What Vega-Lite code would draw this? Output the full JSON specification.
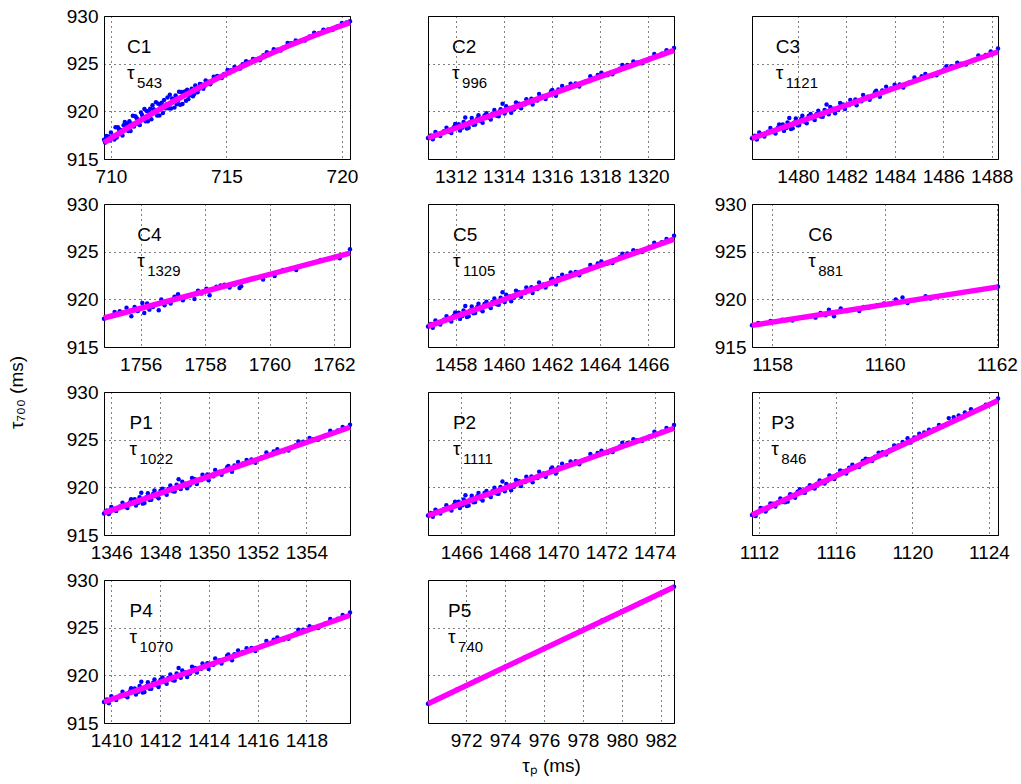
{
  "$schema": "https://vega.github.io/schema/vega-lite/v6.json",
  "background": "white",
  "padding": {"left": 6, "top": 6, "right": 5, "bottom": 5},
  "config": {
    "view": {"stroke": "#000", "strokeWidth": 1},
    "axis": {
      "grid": true, "gridDash": [1, 4], "gridColor": "#000", "gridOpacity": 1, "gridWidth": 1,
      "domain": false, "ticks": false, "tickSize": 0, "format": "d",
      "labelFont": "Liberation Sans", "labelFontSize": 19, "labelColor": "#000",
      "labelFlush": false, "labelOverlap": false,
      "titleFont": "Liberation Sans", "titleFontSize": 19, "titleFontWeight": "normal", "titleColor": "#000"
    },
    "axisX": {"labelPadding": 8},
    "axisY": {"labelPadding": 6},
    "text": {"font": "Liberation Sans", "fontSize": 19, "align": "left", "baseline": "alphabetic", "color": "#000"}
  },
  "datasets": {
    "C1": [
      {"x":709.70,"y":917.01},{"x":709.75,"y":916.74},{"x":709.85,"y":917.19},{"x":709.95,"y":916.94},{"x":710.10,"y":917.42},
      {"x":710.20,"y":918.32},{"x":710.25,"y":917.25},{"x":710.35,"y":918.10},{"x":710.45,"y":917.65},{"x":710.55,"y":918.54},
      {"x":710.65,"y":918.14},{"x":710.75,"y":917.94},{"x":710.80,"y":918.96},{"x":710.90,"y":918.71},{"x":711.00,"y":918.41},
      {"x":711.05,"y":919.48},{"x":711.15,"y":919.17},{"x":711.25,"y":918.57},{"x":711.30,"y":919.89},{"x":711.40,"y":919.33},
      {"x":711.50,"y":918.97},{"x":711.55,"y":920.04},{"x":711.65,"y":919.94},{"x":711.75,"y":919.18},{"x":711.80,"y":920.65},
      {"x":711.90,"y":919.94},{"x":712.00,"y":919.57},{"x":712.05,"y":920.79},{"x":712.15,"y":920.58},{"x":712.25,"y":919.82},
      {"x":712.30,"y":921.19},{"x":712.40,"y":920.72},{"x":712.50,"y":920.31},{"x":712.55,"y":921.73},{"x":712.65,"y":921.36},
      {"x":712.75,"y":920.39},{"x":712.80,"y":921.66},{"x":712.90,"y":921.09},{"x":713.00,"y":920.68},{"x":713.05,"y":922.04},
      {"x":713.15,"y":921.77},{"x":713.25,"y":921.10},{"x":713.30,"y":922.27},{"x":713.40,"y":921.65},{"x":713.50,"y":922.38},
      {"x":713.60,"y":921.80},{"x":713.70,"y":922.48},{"x":713.80,"y":922.31},{"x":713.90,"y":922.84},{"x":714.05,"y":922.67},
      {"x":714.20,"y":923.11},{"x":714.35,"y":923.19},{"x":714.50,"y":923.53},{"x":714.70,"y":923.52},{"x":714.90,"y":923.91},
      {"x":715.20,"y":924.31},{"x":715.50,"y":924.46},{"x":715.70,"y":924.94},{"x":716.00,"y":925.18},{"x":716.30,"y":925.46},
      {"x":716.60,"y":925.89},{"x":716.90,"y":926.01},{"x":717.20,"y":926.47},{"x":717.50,"y":926.73},{"x":717.80,"y":927.13},
      {"x":718.20,"y":927.37},{"x":718.60,"y":927.85},{"x":719.00,"y":928.18},{"x":719.40,"y":928.59},{"x":719.80,"y":928.89},
      {"x":720.20,"y":929.33},{"x":720.35,"y":929.45},
      {"x":709.80,"y":917.41},{"x":709.90,"y":917.37},{"x":710.00,"y":917.77},{"x":710.15,"y":917.05},{"x":710.30,"y":918.32},
      {"x":710.40,"y":918.07},{"x":710.50,"y":917.47},{"x":710.60,"y":918.87},{"x":710.70,"y":918.67},{"x":710.85,"y":917.94},
      {"x":710.95,"y":919.53},{"x":711.10,"y":919.35},{"x":711.20,"y":918.64},{"x":711.35,"y":919.61},{"x":711.45,"y":920.25},
      {"x":711.60,"y":918.97},{"x":711.70,"y":920.26},{"x":711.85,"y":920.22},{"x":711.95,"y":920.96},{"x":712.10,"y":919.56},
      {"x":712.20,"y":920.90},{"x":712.35,"y":920.31},{"x":712.45,"y":921.44},{"x":712.60,"y":920.29},{"x":712.70,"y":921.28},
      {"x":712.85,"y":920.73},{"x":712.95,"y":922.06},{"x":713.10,"y":920.76},{"x":713.20,"y":922.09},{"x":713.35,"y":921.28},
      {"x":713.45,"y":922.11},{"x":713.55,"y":921.59},{"x":713.65,"y":922.72},{"x":713.75,"y":922.00},{"x":713.85,"y":922.87},
      {"x":714.00,"y":922.36},{"x":714.10,"y":923.24},{"x":714.30,"y":922.83},{"x":714.45,"y":923.62},{"x":714.60,"y":923.70},
      {"x":714.80,"y":923.49},{"x":715.05,"y":924.34},{"x":715.35,"y":924.64},{"x":715.60,"y":924.48},{"x":715.85,"y":925.26},
      {"x":716.15,"y":925.50},{"x":716.45,"y":925.37},{"x":716.75,"y":926.20},{"x":717.05,"y":926.51},{"x":717.35,"y":926.38},
      {"x":717.65,"y":927.18},{"x":718.00,"y":927.43},{"x":718.40,"y":927.42},{"x":718.80,"y":928.24},{"x":719.20,"y":928.56},
      {"x":719.60,"y":928.56},{"x":720.00,"y":929.26}
    ],
    "C1fit": [
      {"x":709.70,"y":916.71},{"x":710.70,"y":918.22},{"x":711.70,"y":919.66},{"x":712.70,"y":921.03},{"x":713.70,"y":922.33},
      {"x":714.70,"y":923.57},{"x":715.70,"y":924.74},{"x":716.70,"y":925.84},{"x":717.70,"y":926.88},{"x":718.70,"y":927.85},
      {"x":719.70,"y":928.75},{"x":720.35,"y":929.30}
    ],
    "C2": [
      {"x":1310.85,"y":917.20},{"x":1310.97,"y":917.46},{"x":1311.26,"y":917.62},{"x":1311.51,"y":917.90},{"x":1311.72,"y":917.88},
      {"x":1311.92,"y":918.32},{"x":1312.13,"y":918.65},{"x":1312.28,"y":918.29},{"x":1312.40,"y":919.35},{"x":1312.47,"y":918.20},
      {"x":1312.61,"y":918.88},{"x":1312.74,"y":918.60},{"x":1312.90,"y":919.24},{"x":1313.05,"y":918.98},{"x":1313.20,"y":919.57},
      {"x":1313.39,"y":919.33},{"x":1313.53,"y":919.76},{"x":1313.71,"y":919.53},{"x":1313.87,"y":920.21},{"x":1313.95,"y":920.79},
      {"x":1314.04,"y":919.77},{"x":1314.23,"y":920.34},{"x":1314.43,"y":920.22},{"x":1314.64,"y":920.80},{"x":1314.89,"y":920.73},
      {"x":1315.15,"y":921.31},{"x":1315.40,"y":921.14},{"x":1315.66,"y":921.62},{"x":1315.97,"y":922.10},{"x":1316.27,"y":922.28},
      {"x":1316.63,"y":922.50},{"x":1316.99,"y":922.92},{"x":1317.40,"y":923.14},{"x":1317.91,"y":923.80},{"x":1318.32,"y":923.82},
      {"x":1318.83,"y":924.48},{"x":1319.14,"y":924.85},{"x":1319.55,"y":925.12},{"x":1320.06,"y":925.53},{"x":1320.57,"y":926.04},
      {"x":1321.08,"y":926.65},
      {"x":1311.05,"y":917.08},{"x":1311.16,"y":917.83},{"x":1311.36,"y":917.41},{"x":1311.62,"y":918.29},{"x":1311.82,"y":917.72},
      {"x":1311.98,"y":918.66},{"x":1312.18,"y":918.00},{"x":1312.33,"y":918.88},{"x":1312.54,"y":918.27},{"x":1312.67,"y":919.29},
      {"x":1312.81,"y":918.62},{"x":1312.95,"y":919.59},{"x":1313.12,"y":918.79},{"x":1313.28,"y":919.79},{"x":1313.46,"y":919.15},
      {"x":1313.61,"y":920.13},{"x":1313.79,"y":919.49},{"x":1314.10,"y":920.53},{"x":1314.31,"y":919.86},{"x":1314.51,"y":920.94},
      {"x":1314.72,"y":920.33},{"x":1314.94,"y":921.28},{"x":1315.20,"y":920.71},{"x":1315.47,"y":921.81},{"x":1315.74,"y":921.30},
      {"x":1316.02,"y":922.25},{"x":1316.17,"y":921.63},{"x":1316.43,"y":922.66},{"x":1316.78,"y":922.89},{"x":1317.14,"y":922.61},
      {"x":1317.60,"y":923.67},{"x":1318.06,"y":924.04},{"x":1318.52,"y":923.90},{"x":1318.93,"y":924.87},{"x":1319.39,"y":925.23},
      {"x":1319.75,"y":925.05},{"x":1320.26,"y":926.01},{"x":1320.77,"y":926.42}
    ],
    "C2fit": [{"x":1310.85,"y":917.20},{"x":1321.08,"y":926.40}],
    "C3": [
      {"x":1478.10,"y":917.17},{"x":1478.22,"y":917.43},{"x":1478.51,"y":917.58},{"x":1478.76,"y":917.86},{"x":1478.96,"y":917.84},
      {"x":1479.17,"y":918.27},{"x":1479.37,"y":918.61},{"x":1479.52,"y":918.24},{"x":1479.64,"y":919.30},{"x":1479.71,"y":918.15},
      {"x":1479.85,"y":918.83},{"x":1479.98,"y":918.55},{"x":1480.13,"y":919.19},{"x":1480.28,"y":918.92},{"x":1480.44,"y":919.51},
      {"x":1480.62,"y":919.27},{"x":1480.76,"y":919.70},{"x":1480.94,"y":919.46},{"x":1481.10,"y":920.15},{"x":1481.18,"y":920.72},
      {"x":1481.27,"y":919.70},{"x":1481.45,"y":920.27},{"x":1481.66,"y":920.15},{"x":1481.86,"y":920.73},{"x":1482.11,"y":920.66},
      {"x":1482.37,"y":921.23},{"x":1482.62,"y":921.06},{"x":1482.88,"y":921.54},{"x":1483.18,"y":922.01},{"x":1483.48,"y":922.18},
      {"x":1483.84,"y":922.40},{"x":1484.20,"y":922.82},{"x":1484.60,"y":923.03},{"x":1485.11,"y":923.69},{"x":1485.52,"y":923.70},
      {"x":1486.02,"y":924.35},{"x":1486.33,"y":924.72},{"x":1486.74,"y":924.99},{"x":1487.24,"y":925.39},{"x":1487.75,"y":925.90},
      {"x":1488.26,"y":926.60},
      {"x":1478.30,"y":917.05},{"x":1478.40,"y":917.79},{"x":1478.61,"y":917.37},{"x":1478.86,"y":918.25},{"x":1479.07,"y":917.68},
      {"x":1479.22,"y":918.62},{"x":1479.42,"y":917.95},{"x":1479.57,"y":918.84},{"x":1479.78,"y":918.22},{"x":1479.91,"y":919.24},
      {"x":1480.05,"y":918.56},{"x":1480.18,"y":919.53},{"x":1480.36,"y":918.74},{"x":1480.52,"y":919.73},{"x":1480.69,"y":919.09},
      {"x":1480.84,"y":920.07},{"x":1481.02,"y":919.43},{"x":1481.33,"y":920.46},{"x":1481.53,"y":919.79},{"x":1481.74,"y":920.87},
      {"x":1481.94,"y":920.25},{"x":1482.16,"y":921.20},{"x":1482.42,"y":920.63},{"x":1482.69,"y":921.72},{"x":1482.96,"y":921.21},
      {"x":1483.23,"y":922.16},{"x":1483.38,"y":921.54},{"x":1483.64,"y":922.57},{"x":1483.99,"y":922.79},{"x":1484.35,"y":922.50},
      {"x":1484.81,"y":923.56},{"x":1485.26,"y":923.92},{"x":1485.72,"y":923.78},{"x":1486.13,"y":924.74},{"x":1486.58,"y":925.10},
      {"x":1486.94,"y":924.92},{"x":1487.45,"y":925.87},{"x":1487.96,"y":926.28}
    ],
    "C3fit": [{"x":1478.10,"y":917.17},{"x":1488.26,"y":926.25}],
    "C4": [
      {"x":1754.86,"y":917.97},{"x":1755.19,"y":918.67},{"x":1755.35,"y":918.74},{"x":1755.56,"y":919.13},{"x":1755.71,"y":918.22},
      {"x":1755.81,"y":919.20},{"x":1755.91,"y":918.78},{"x":1756.05,"y":919.62},{"x":1756.11,"y":918.56},{"x":1756.20,"y":919.56},
      {"x":1756.27,"y":918.92},{"x":1756.38,"y":919.20},{"x":1756.56,"y":918.85},{"x":1756.64,"y":919.98},{"x":1756.74,"y":919.38},
      {"x":1756.82,"y":919.73},{"x":1756.93,"y":919.56},{"x":1757.05,"y":920.26},{"x":1757.16,"y":920.54},{"x":1757.31,"y":919.91},
      {"x":1757.42,"y":920.33},{"x":1757.57,"y":920.43},{"x":1757.67,"y":920.04},{"x":1757.78,"y":920.89},{"x":1757.89,"y":920.61},
      {"x":1758.04,"y":921.10},{"x":1758.14,"y":920.43},{"x":1758.35,"y":921.31},{"x":1758.48,"y":921.46},{"x":1758.60,"y":921.52},
      {"x":1758.76,"y":921.25},{"x":1758.92,"y":921.56},{"x":1759.07,"y":921.20},{"x":1759.12,"y":921.38},{"x":1759.80,"y":922.09},
      {"x":1760.16,"y":922.44},{"x":1760.42,"y":923.07},{"x":1760.83,"y":923.07},{"x":1761.59,"y":924.13},{"x":1762.18,"y":924.31},
      {"x":1762.50,"y":925.26}
    ],
    "C4fit": [{"x":1754.86,"y":918.04},{"x":1762.50,"y":924.84}],
    "C5": [
      {"x":1456.85,"y":917.16},{"x":1456.97,"y":917.41},{"x":1457.26,"y":917.57},{"x":1457.51,"y":917.85},{"x":1457.72,"y":917.83},
      {"x":1457.92,"y":918.27},{"x":1458.13,"y":918.60},{"x":1458.28,"y":918.24},{"x":1458.40,"y":919.30},{"x":1458.47,"y":918.15},
      {"x":1458.61,"y":918.83},{"x":1458.74,"y":918.55},{"x":1458.90,"y":919.19},{"x":1459.05,"y":918.93},{"x":1459.20,"y":919.52},
      {"x":1459.39,"y":919.28},{"x":1459.53,"y":919.71},{"x":1459.71,"y":919.48},{"x":1459.87,"y":920.16},{"x":1459.95,"y":920.74},
      {"x":1460.04,"y":919.72},{"x":1460.23,"y":920.29},{"x":1460.43,"y":920.17},{"x":1460.64,"y":920.75},{"x":1460.89,"y":920.68},
      {"x":1461.15,"y":921.26},{"x":1461.40,"y":921.09},{"x":1461.66,"y":921.57},{"x":1461.97,"y":922.05},{"x":1462.27,"y":922.23},
      {"x":1462.63,"y":922.45},{"x":1462.99,"y":922.87},{"x":1463.40,"y":923.09},{"x":1463.91,"y":923.75},{"x":1464.32,"y":923.77},
      {"x":1464.83,"y":924.43},{"x":1465.14,"y":924.80},{"x":1465.55,"y":925.07},{"x":1466.06,"y":925.48},{"x":1466.57,"y":925.99},
      {"x":1467.08,"y":926.66},
      {"x":1457.05,"y":917.03},{"x":1457.16,"y":917.78},{"x":1457.36,"y":917.36},{"x":1457.62,"y":918.24},{"x":1457.82,"y":917.67},
      {"x":1457.98,"y":918.61},{"x":1458.18,"y":917.95},{"x":1458.33,"y":918.83},{"x":1458.54,"y":918.22},{"x":1458.67,"y":919.24},
      {"x":1458.81,"y":918.57},{"x":1458.95,"y":919.54},{"x":1459.12,"y":918.74},{"x":1459.28,"y":919.74},{"x":1459.46,"y":919.10},
      {"x":1459.61,"y":920.08},{"x":1459.79,"y":919.44},{"x":1460.10,"y":920.48},{"x":1460.31,"y":919.81},{"x":1460.51,"y":920.89},
      {"x":1460.72,"y":920.28},{"x":1460.94,"y":921.23},{"x":1461.20,"y":920.66},{"x":1461.47,"y":921.76},{"x":1461.74,"y":921.25},
      {"x":1462.02,"y":922.17},{"x":1462.17,"y":921.55},{"x":1462.43,"y":922.58},{"x":1462.78,"y":922.81},{"x":1463.14,"y":922.53},
      {"x":1463.60,"y":923.59},{"x":1464.06,"y":923.96},{"x":1464.52,"y":923.82},{"x":1464.93,"y":924.79},{"x":1465.39,"y":925.15},
      {"x":1465.75,"y":924.97},{"x":1466.26,"y":925.93},{"x":1466.77,"y":926.34}
    ],
    "C5fit": [{"x":1456.85,"y":917.16},{"x":1467.08,"y":926.31}],
    "C6": [
      {"x":1157.64,"y":917.27},{"x":1157.75,"y":917.51},{"x":1157.97,"y":917.72},{"x":1158.18,"y":917.87},{"x":1158.36,"y":917.79},
      {"x":1158.51,"y":918.08},{"x":1158.69,"y":918.22},{"x":1158.77,"y":918.08},{"x":1158.86,"y":918.56},{"x":1158.95,"y":918.32},
      {"x":1159.01,"y":918.92},{"x":1159.10,"y":918.22},{"x":1159.22,"y":919.03},{"x":1159.34,"y":918.78},{"x":1159.43,"y":918.92},
      {"x":1159.55,"y":918.78},{"x":1159.63,"y":919.20},{"x":1159.72,"y":919.13},{"x":1159.87,"y":919.38},{"x":1159.99,"y":919.56},
      {"x":1160.11,"y":919.48},{"x":1160.20,"y":919.98},{"x":1160.32,"y":920.19},{"x":1160.41,"y":919.62},{"x":1160.53,"y":919.90},
      {"x":1160.73,"y":920.33},{"x":1160.82,"y":920.08},{"x":1162.02,"y":921.31}
    ],
    "C6fit": [{"x":1157.64,"y":917.27},{"x":1162.02,"y":921.31}],
    "P1": [
      {"x":1345.70,"y":917.25},{"x":1345.82,"y":917.58},{"x":1346.10,"y":917.73},{"x":1346.36,"y":918.00},{"x":1346.56,"y":917.98},
      {"x":1346.76,"y":918.41},{"x":1346.96,"y":918.74},{"x":1347.11,"y":918.38},{"x":1347.23,"y":919.43},{"x":1347.29,"y":918.29},
      {"x":1347.44,"y":918.96},{"x":1347.57,"y":918.68},{"x":1347.72,"y":919.32},{"x":1347.87,"y":919.05},{"x":1348.02,"y":919.64},
      {"x":1348.20,"y":919.40},{"x":1348.34,"y":919.82},{"x":1348.53,"y":919.58},{"x":1348.68,"y":920.27},{"x":1348.76,"y":920.84},
      {"x":1348.85,"y":919.82},{"x":1349.03,"y":920.38},{"x":1349.23,"y":920.26},{"x":1349.43,"y":920.84},{"x":1349.69,"y":920.77},
      {"x":1349.94,"y":921.34},{"x":1350.19,"y":921.17},{"x":1350.44,"y":921.64},{"x":1350.75,"y":922.11},{"x":1351.05,"y":922.28},
      {"x":1351.40,"y":922.49},{"x":1351.75,"y":922.91},{"x":1352.16,"y":923.12},{"x":1352.66,"y":923.77},{"x":1353.07,"y":923.78},
      {"x":1353.57,"y":924.42},{"x":1353.87,"y":924.79},{"x":1354.28,"y":925.05},{"x":1354.78,"y":925.45},{"x":1355.29,"y":925.95},
      {"x":1355.79,"y":926.56},
      {"x":1345.90,"y":917.20},{"x":1346.00,"y":917.94},{"x":1346.20,"y":917.52},{"x":1346.46,"y":918.39},{"x":1346.66,"y":917.82},
      {"x":1346.81,"y":918.76},{"x":1347.01,"y":918.09},{"x":1347.16,"y":918.97},{"x":1347.36,"y":918.35},{"x":1347.50,"y":919.37},
      {"x":1347.64,"y":918.69},{"x":1347.77,"y":919.66},{"x":1347.94,"y":918.86},{"x":1348.10,"y":919.86},{"x":1348.27,"y":919.21},
      {"x":1348.42,"y":920.19},{"x":1348.60,"y":919.55},{"x":1348.91,"y":920.58},{"x":1349.11,"y":919.91},{"x":1349.31,"y":920.98},
      {"x":1349.51,"y":920.36},{"x":1349.74,"y":921.31},{"x":1349.99,"y":920.74},{"x":1350.26,"y":921.83},{"x":1350.52,"y":921.31},
      {"x":1350.80,"y":922.25},{"x":1350.95,"y":921.64},{"x":1351.20,"y":922.66},{"x":1351.55,"y":922.88},{"x":1351.91,"y":922.59},
      {"x":1352.36,"y":923.65},{"x":1352.81,"y":924.00},{"x":1353.27,"y":923.86},{"x":1353.67,"y":924.81},{"x":1354.13,"y":925.17},
      {"x":1354.48,"y":924.98},{"x":1354.98,"y":925.93},{"x":1355.49,"y":926.33}
    ],
    "P1fit": [{"x":1345.70,"y":917.32},{"x":1355.79,"y":926.30}],
    "P2": [
      {"x":1464.62,"y":917.04},{"x":1464.74,"y":917.30},{"x":1465.03,"y":917.46},{"x":1465.28,"y":917.74},{"x":1465.49,"y":917.72},
      {"x":1465.69,"y":918.15},{"x":1465.89,"y":918.49},{"x":1466.05,"y":918.12},{"x":1466.17,"y":919.18},{"x":1466.23,"y":918.04},
      {"x":1466.37,"y":918.72},{"x":1466.50,"y":918.43},{"x":1466.66,"y":919.07},{"x":1466.81,"y":918.81},{"x":1466.96,"y":919.40},
      {"x":1467.14,"y":919.16},{"x":1467.29,"y":919.59},{"x":1467.47,"y":919.35},{"x":1467.62,"y":920.04},{"x":1467.70,"y":920.62},
      {"x":1467.80,"y":919.60},{"x":1467.98,"y":920.16},{"x":1468.18,"y":920.05},{"x":1468.39,"y":920.63},{"x":1468.64,"y":920.56},
      {"x":1468.90,"y":921.14},{"x":1469.15,"y":920.97},{"x":1469.40,"y":921.45},{"x":1469.71,"y":921.92},{"x":1470.02,"y":922.09},
      {"x":1470.37,"y":922.32},{"x":1470.73,"y":922.74},{"x":1471.14,"y":922.95},{"x":1471.64,"y":923.61},{"x":1472.05,"y":923.63},
      {"x":1472.56,"y":924.28},{"x":1472.87,"y":924.66},{"x":1473.27,"y":924.93},{"x":1473.78,"y":925.33},{"x":1474.29,"y":925.84},
      {"x":1474.80,"y":926.55},
      {"x":1464.82,"y":916.92},{"x":1464.93,"y":917.66},{"x":1465.13,"y":917.25},{"x":1465.38,"y":918.13},{"x":1465.59,"y":917.56},
      {"x":1465.74,"y":918.50},{"x":1465.94,"y":917.83},{"x":1466.10,"y":918.72},{"x":1466.30,"y":918.10},{"x":1466.43,"y":919.12},
      {"x":1466.57,"y":918.45},{"x":1466.71,"y":919.42},{"x":1466.88,"y":918.62},{"x":1467.04,"y":919.62},{"x":1467.22,"y":918.98},
      {"x":1467.37,"y":919.96},{"x":1467.54,"y":919.32},{"x":1467.86,"y":920.35},{"x":1468.06,"y":919.69},{"x":1468.26,"y":920.77},
      {"x":1468.47,"y":920.15},{"x":1468.69,"y":921.10},{"x":1468.95,"y":920.53},{"x":1469.22,"y":921.63},{"x":1469.49,"y":921.12},
      {"x":1469.76,"y":922.07},{"x":1469.91,"y":921.45},{"x":1470.17,"y":922.48},{"x":1470.52,"y":922.70},{"x":1470.88,"y":922.42},
      {"x":1471.34,"y":923.49},{"x":1471.80,"y":923.85},{"x":1472.26,"y":923.71},{"x":1472.66,"y":924.68},{"x":1473.12,"y":925.04},
      {"x":1473.48,"y":924.86},{"x":1473.99,"y":925.82},{"x":1474.49,"y":926.23}
    ],
    "P2fit": [{"x":1464.62,"y":917.04},{"x":1474.80,"y":926.20}],
    "P3": [
      {"x":1111.63,"y":917.11},{"x":1111.76,"y":917.08},{"x":1111.95,"y":917.41},{"x":1112.21,"y":917.75},{"x":1112.46,"y":917.79},
      {"x":1112.72,"y":918.28},{"x":1112.98,"y":918.42},{"x":1113.24,"y":918.46},{"x":1113.49,"y":918.50},{"x":1113.75,"y":919.19},
      {"x":1114.01,"y":919.53},{"x":1114.26,"y":919.47},{"x":1114.52,"y":919.91},{"x":1114.78,"y":919.95},{"x":1115.03,"y":920.39},
      {"x":1115.29,"y":920.58},{"x":1115.55,"y":920.67},{"x":1115.80,"y":921.11},{"x":1116.06,"y":921.25},{"x":1116.38,"y":921.65},
      {"x":1116.70,"y":922.05},{"x":1117.02,"y":922.10},{"x":1117.41,"y":922.76},{"x":1117.73,"y":922.96},{"x":1118.05,"y":923.21},
      {"x":1118.44,"y":923.67},{"x":1118.82,"y":923.93},{"x":1119.27,"y":924.40},{"x":1119.75,"y":925.14},{"x":1120.10,"y":925.24},
      {"x":1120.62,"y":925.76},{"x":1121.13,"y":926.09},{"x":1121.90,"y":927.26},{"x":1122.42,"y":927.54},{"x":1123.06,"y":928.19},
      {"x":1123.83,"y":928.66},{"x":1124.47,"y":929.31},
      {"x":1111.82,"y":916.99},{"x":1112.08,"y":917.83},{"x":1112.34,"y":917.47},{"x":1112.59,"y":918.31},{"x":1112.85,"y":918.00},
      {"x":1113.11,"y":918.84},{"x":1113.36,"y":918.43},{"x":1113.62,"y":919.27},{"x":1113.88,"y":918.91},{"x":1114.13,"y":919.80},
      {"x":1114.39,"y":919.44},{"x":1114.65,"y":920.23},{"x":1114.90,"y":919.87},{"x":1115.16,"y":920.71},{"x":1115.42,"y":920.40},
      {"x":1115.67,"y":921.24},{"x":1115.93,"y":920.88},{"x":1116.23,"y":921.76},{"x":1116.55,"y":921.46},{"x":1116.87,"y":922.36},
      {"x":1117.22,"y":922.13},{"x":1117.56,"y":923.00},{"x":1117.90,"y":922.77},{"x":1118.24,"y":923.64},{"x":1118.63,"y":923.45},
      {"x":1119.05,"y":924.40},{"x":1119.49,"y":924.75},{"x":1119.91,"y":924.70},{"x":1120.36,"y":925.62},{"x":1120.87,"y":926.05},
      {"x":1121.39,"y":926.53},{"x":1122.16,"y":927.35},{"x":1122.74,"y":927.84}
    ],
    "P3fit": [{"x":1111.63,"y":917.11},{"x":1124.47,"y":929.10}],
    "P4": [
      {"x":1409.70,"y":917.20},{"x":1409.82,"y":917.46},{"x":1410.10,"y":917.61},{"x":1410.36,"y":917.89},{"x":1410.56,"y":917.87},
      {"x":1410.76,"y":918.30},{"x":1410.96,"y":918.63},{"x":1411.11,"y":918.28},{"x":1411.23,"y":919.33},{"x":1411.29,"y":918.19},
      {"x":1411.44,"y":918.86},{"x":1411.57,"y":918.58},{"x":1411.72,"y":919.22},{"x":1411.87,"y":918.95},{"x":1412.02,"y":919.55},
      {"x":1412.20,"y":919.31},{"x":1412.34,"y":919.73},{"x":1412.53,"y":919.49},{"x":1412.68,"y":920.19},{"x":1412.76,"y":920.76},
      {"x":1412.85,"y":919.74},{"x":1413.03,"y":920.30},{"x":1413.23,"y":920.18},{"x":1413.43,"y":920.76},{"x":1413.69,"y":920.70},
      {"x":1413.94,"y":921.27},{"x":1414.19,"y":921.10},{"x":1414.44,"y":921.58},{"x":1414.75,"y":922.05},{"x":1415.05,"y":922.22},
      {"x":1415.40,"y":922.44},{"x":1415.75,"y":922.86},{"x":1416.16,"y":923.08},{"x":1416.66,"y":923.73},{"x":1417.07,"y":923.75},
      {"x":1417.57,"y":924.39},{"x":1417.87,"y":924.77},{"x":1418.28,"y":925.03},{"x":1418.78,"y":925.44},{"x":1419.29,"y":925.94},
      {"x":1419.79,"y":926.60},
      {"x":1409.90,"y":917.08},{"x":1410.00,"y":917.82},{"x":1410.20,"y":917.40},{"x":1410.46,"y":918.28},{"x":1410.66,"y":917.71},
      {"x":1410.81,"y":918.65},{"x":1411.01,"y":917.99},{"x":1411.16,"y":918.87},{"x":1411.36,"y":918.25},{"x":1411.50,"y":919.27},
      {"x":1411.64,"y":918.59},{"x":1411.77,"y":919.56},{"x":1411.94,"y":918.77},{"x":1412.10,"y":919.77},{"x":1412.27,"y":919.12},
      {"x":1412.42,"y":920.10},{"x":1412.60,"y":919.46},{"x":1412.91,"y":920.50},{"x":1413.11,"y":919.83},{"x":1413.31,"y":920.90},
      {"x":1413.51,"y":920.29},{"x":1413.74,"y":921.24},{"x":1413.99,"y":920.67},{"x":1414.26,"y":921.76},{"x":1414.52,"y":921.25},
      {"x":1414.80,"y":922.19},{"x":1414.95,"y":921.58},{"x":1415.20,"y":922.61},{"x":1415.55,"y":922.83},{"x":1415.91,"y":922.54},
      {"x":1416.36,"y":923.61},{"x":1416.81,"y":923.96},{"x":1417.27,"y":923.83},{"x":1417.67,"y":924.78},{"x":1418.13,"y":925.15},
      {"x":1418.48,"y":924.96},{"x":1418.98,"y":925.92},{"x":1419.49,"y":926.33}
    ],
    "P4fit": [{"x":1409.70,"y":917.20},{"x":1419.79,"y":926.30}],
    "P5": [
      {"x":970.04,"y":917.03},{"x":970.50,"y":917.51},{"x":971.00,"y":917.93},{"x":971.50,"y":918.48},{"x":972.00,"y":918.91},
      {"x":972.50,"y":919.46},{"x":973.00,"y":919.86},{"x":973.50,"y":920.41},{"x":974.00,"y":920.89},{"x":974.50,"y":921.32},
      {"x":975.00,"y":921.87},{"x":975.50,"y":922.30},{"x":976.00,"y":922.83},{"x":976.50,"y":923.25},{"x":977.00,"y":923.82},
      {"x":977.50,"y":924.22},{"x":978.00,"y":924.78},{"x":978.50,"y":925.20},{"x":979.00,"y":925.77},{"x":979.50,"y":926.16},
      {"x":980.00,"y":926.73},{"x":980.50,"y":927.14},{"x":981.00,"y":927.70},{"x":981.50,"y":928.10},{"x":982.00,"y":928.66},
      {"x":982.68,"y":929.30}
    ],
    "P5fit": [{"x":970.04,"y":917.03},{"x":982.68,"y":929.27}]
  },
  "columns": 3,
  "bounds": "flush",
  "spacing": {"row": 45, "column": 78},
  "concat": [
    {
      "width": 246, "height": 143,
      "encoding": {
        "x": {"field": "x", "type": "quantitative", "scale": {"domain": [709.7, 720.35], "nice": false, "zero": false}, "axis": {"values": [710, 715, 720], "title": null}},
        "y": {"field": "y", "type": "quantitative", "scale": {"domain": [915, 930], "nice": false, "zero": false}, "axis": {"values": [915, 920, 925, 930], "title": null}}
      },
      "layer": [
        {"data": {"name": "C1"}, "mark": {"type": "circle", "size": 20, "color": "#0000ff", "opacity": 1}},
        {"data": {"name": "C1fit"}, "mark": {"type": "line", "color": "#ff00ff", "strokeWidth": 5.5, "strokeCap": "butt"}, "encoding": {}},
        {"data": {"values": [{"t": "C1", "x": 710.7, "y": 926.15}, {"t": "τ", "x": 710.7, "y": 923.4}]}, "mark": {"type": "text"}, "encoding": {"text": {"field": "t", "type": "nominal"}}},
        {"data": {"values": [{"t": "543", "x": 710.7, "y": 923.4}]}, "mark": {"type": "text", "fontSize": 15, "dx": 10, "dy": 9}, "encoding": {"text": {"field": "t", "type": "nominal"}}}
      ]
    },
    {
      "width": 246, "height": 143,
      "encoding": {
        "x": {"field": "x", "type": "quantitative", "scale": {"domain": [1310.85, 1321.08], "nice": false, "zero": false}, "axis": {"values": [1312, 1314, 1316, 1318, 1320], "title": null}},
        "y": {"field": "y", "type": "quantitative", "scale": {"domain": [915, 930], "nice": false, "zero": false}, "axis": {"values": [915, 920, 925, 930], "title": null, "labels": false}}
      },
      "layer": [
        {"data": {"name": "C2"}, "mark": {"type": "circle", "size": 20, "color": "#0000ff", "opacity": 1}},
        {"data": {"name": "C2fit"}, "mark": {"type": "line", "color": "#ff00ff", "strokeWidth": 5.5, "strokeCap": "butt"}, "encoding": {}},
        {"data": {"values": [{"t": "C2", "x": 1311.85, "y": 926.15}, {"t": "τ", "x": 1311.85, "y": 923.4}]}, "mark": {"type": "text"}, "encoding": {"text": {"field": "t", "type": "nominal"}}},
        {"data": {"values": [{"t": "996", "x": 1311.85, "y": 923.4}]}, "mark": {"type": "text", "fontSize": 15, "dx": 10, "dy": 9}, "encoding": {"text": {"field": "t", "type": "nominal"}}}
      ]
    },
    {
      "width": 246, "height": 143,
      "encoding": {
        "x": {"field": "x", "type": "quantitative", "scale": {"domain": [1478.1, 1488.26], "nice": false, "zero": false}, "axis": {"values": [1480, 1482, 1484, 1486, 1488], "title": null}},
        "y": {"field": "y", "type": "quantitative", "scale": {"domain": [915, 930], "nice": false, "zero": false}, "axis": {"values": [915, 920, 925, 930], "title": null, "labels": false}}
      },
      "layer": [
        {"data": {"name": "C3"}, "mark": {"type": "circle", "size": 20, "color": "#0000ff", "opacity": 1}},
        {"data": {"name": "C3fit"}, "mark": {"type": "line", "color": "#ff00ff", "strokeWidth": 5.5, "strokeCap": "butt"}, "encoding": {}},
        {"data": {"values": [{"t": "C3", "x": 1479.08, "y": 926.15}, {"t": "τ", "x": 1479.08, "y": 923.4}]}, "mark": {"type": "text"}, "encoding": {"text": {"field": "t", "type": "nominal"}}},
        {"data": {"values": [{"t": "1121", "x": 1479.08, "y": 923.4}]}, "mark": {"type": "text", "fontSize": 15, "dx": 10, "dy": 9}, "encoding": {"text": {"field": "t", "type": "nominal"}}}
      ]
    },
    {
      "width": 246, "height": 143,
      "encoding": {
        "x": {"field": "x", "type": "quantitative", "scale": {"domain": [1754.86, 1762.5], "nice": false, "zero": false}, "axis": {"values": [1756, 1758, 1760, 1762], "title": null}},
        "y": {"field": "y", "type": "quantitative", "scale": {"domain": [915, 930], "nice": false, "zero": false}, "axis": {"values": [915, 920, 925, 930], "title": null}}
      },
      "layer": [
        {"data": {"name": "C4"}, "mark": {"type": "circle", "size": 20, "color": "#0000ff", "opacity": 1}},
        {"data": {"name": "C4fit"}, "mark": {"type": "line", "color": "#ff00ff", "strokeWidth": 5.5, "strokeCap": "butt"}, "encoding": {}},
        {"data": {"values": [{"t": "C4", "x": 1755.89, "y": 926.15}, {"t": "τ", "x": 1755.89, "y": 923.4}]}, "mark": {"type": "text"}, "encoding": {"text": {"field": "t", "type": "nominal"}}},
        {"data": {"values": [{"t": "1329", "x": 1755.89, "y": 923.4}]}, "mark": {"type": "text", "fontSize": 15, "dx": 10, "dy": 9}, "encoding": {"text": {"field": "t", "type": "nominal"}}}
      ]
    },
    {
      "width": 246, "height": 143,
      "encoding": {
        "x": {"field": "x", "type": "quantitative", "scale": {"domain": [1456.85, 1467.08], "nice": false, "zero": false}, "axis": {"values": [1458, 1460, 1462, 1464, 1466], "title": null}},
        "y": {"field": "y", "type": "quantitative", "scale": {"domain": [915, 930], "nice": false, "zero": false}, "axis": {"values": [915, 920, 925, 930], "title": null, "labels": false}}
      },
      "layer": [
        {"data": {"name": "C5"}, "mark": {"type": "circle", "size": 20, "color": "#0000ff", "opacity": 1}},
        {"data": {"name": "C5fit"}, "mark": {"type": "line", "color": "#ff00ff", "strokeWidth": 5.5, "strokeCap": "butt"}, "encoding": {}},
        {"data": {"values": [{"t": "C5", "x": 1457.89, "y": 926.15}, {"t": "τ", "x": 1457.89, "y": 923.4}]}, "mark": {"type": "text"}, "encoding": {"text": {"field": "t", "type": "nominal"}}},
        {"data": {"values": [{"t": "1105", "x": 1457.89, "y": 923.4}]}, "mark": {"type": "text", "fontSize": 15, "dx": 10, "dy": 9}, "encoding": {"text": {"field": "t", "type": "nominal"}}}
      ]
    },
    {
      "width": 246, "height": 143,
      "encoding": {
        "x": {"field": "x", "type": "quantitative", "scale": {"domain": [1157.64, 1162.02], "nice": false, "zero": false}, "axis": {"values": [1158, 1160, 1162], "title": null}},
        "y": {"field": "y", "type": "quantitative", "scale": {"domain": [915, 930], "nice": false, "zero": false}, "axis": {"values": [915, 920, 925, 930], "title": null}}
      },
      "layer": [
        {"data": {"name": "C6"}, "mark": {"type": "circle", "size": 20, "color": "#0000ff", "opacity": 1}},
        {"data": {"name": "C6fit"}, "mark": {"type": "line", "color": "#ff00ff", "strokeWidth": 5.5, "strokeCap": "butt"}, "encoding": {}},
        {"data": {"values": [{"t": "C6", "x": 1158.64, "y": 926.15}, {"t": "τ", "x": 1158.64, "y": 923.4}]}, "mark": {"type": "text"}, "encoding": {"text": {"field": "t", "type": "nominal"}}},
        {"data": {"values": [{"t": "881", "x": 1158.64, "y": 923.4}]}, "mark": {"type": "text", "fontSize": 15, "dx": 10, "dy": 9}, "encoding": {"text": {"field": "t", "type": "nominal"}}}
      ]
    },
    {
      "width": 246, "height": 143,
      "encoding": {
        "x": {"field": "x", "type": "quantitative", "scale": {"domain": [1345.7, 1355.79], "nice": false, "zero": false}, "axis": {"values": [1346, 1348, 1350, 1352, 1354], "title": null}},
        "y": {"field": "y", "type": "quantitative", "scale": {"domain": [915, 930], "nice": false, "zero": false}, "axis": {"values": [915, 920, 925, 930], "title": "τ₇₀₀ (ms)", "titleX": -82, "titleY": 0, "titleAngle": -90, "titleAlign": "center", "titleBaseline": "alphabetic"}}
      },
      "layer": [
        {"data": {"name": "P1"}, "mark": {"type": "circle", "size": 20, "color": "#0000ff", "opacity": 1}},
        {"data": {"name": "P1fit"}, "mark": {"type": "line", "color": "#ff00ff", "strokeWidth": 5.5, "strokeCap": "butt"}, "encoding": {}},
        {"data": {"values": [{"t": "P1", "x": 1346.75, "y": 926.15}, {"t": "τ", "x": 1346.75, "y": 923.4}]}, "mark": {"type": "text"}, "encoding": {"text": {"field": "t", "type": "nominal"}}},
        {"data": {"values": [{"t": "1022", "x": 1346.75, "y": 923.4}]}, "mark": {"type": "text", "fontSize": 15, "dx": 10, "dy": 9}, "encoding": {"text": {"field": "t", "type": "nominal"}}}
      ]
    },
    {
      "width": 246, "height": 143,
      "encoding": {
        "x": {"field": "x", "type": "quantitative", "scale": {"domain": [1464.62, 1474.8], "nice": false, "zero": false}, "axis": {"values": [1466, 1468, 1470, 1472, 1474], "title": null}},
        "y": {"field": "y", "type": "quantitative", "scale": {"domain": [915, 930], "nice": false, "zero": false}, "axis": {"values": [915, 920, 925, 930], "title": null, "labels": false}}
      },
      "layer": [
        {"data": {"name": "P2"}, "mark": {"type": "circle", "size": 20, "color": "#0000ff", "opacity": 1}},
        {"data": {"name": "P2fit"}, "mark": {"type": "line", "color": "#ff00ff", "strokeWidth": 5.5, "strokeCap": "butt"}, "encoding": {}},
        {"data": {"values": [{"t": "P2", "x": 1465.65, "y": 926.15}, {"t": "τ", "x": 1465.65, "y": 923.4}]}, "mark": {"type": "text"}, "encoding": {"text": {"field": "t", "type": "nominal"}}},
        {"data": {"values": [{"t": "1111", "x": 1465.65, "y": 923.4}]}, "mark": {"type": "text", "fontSize": 15, "dx": 10, "dy": 9}, "encoding": {"text": {"field": "t", "type": "nominal"}}}
      ]
    },
    {
      "width": 246, "height": 143,
      "encoding": {
        "x": {"field": "x", "type": "quantitative", "scale": {"domain": [1111.63, 1124.47], "nice": false, "zero": false}, "axis": {"values": [1112, 1116, 1120, 1124], "title": null}},
        "y": {"field": "y", "type": "quantitative", "scale": {"domain": [915, 930], "nice": false, "zero": false}, "axis": {"values": [915, 920, 925, 930], "title": null, "labels": false}}
      },
      "layer": [
        {"data": {"name": "P3"}, "mark": {"type": "circle", "size": 20, "color": "#0000ff", "opacity": 1}},
        {"data": {"name": "P3fit"}, "mark": {"type": "line", "color": "#ff00ff", "strokeWidth": 5.5, "strokeCap": "butt"}, "encoding": {}},
        {"data": {"values": [{"t": "P3", "x": 1112.64, "y": 926.15}, {"t": "τ", "x": 1112.64, "y": 923.4}]}, "mark": {"type": "text"}, "encoding": {"text": {"field": "t", "type": "nominal"}}},
        {"data": {"values": [{"t": "846", "x": 1112.64, "y": 923.4}]}, "mark": {"type": "text", "fontSize": 15, "dx": 10, "dy": 9}, "encoding": {"text": {"field": "t", "type": "nominal"}}}
      ]
    },
    {
      "width": 246, "height": 143,
      "encoding": {
        "x": {"field": "x", "type": "quantitative", "scale": {"domain": [1409.7, 1419.79], "nice": false, "zero": false}, "axis": {"values": [1410, 1412, 1414, 1416, 1418], "title": null}},
        "y": {"field": "y", "type": "quantitative", "scale": {"domain": [915, 930], "nice": false, "zero": false}, "axis": {"values": [915, 920, 925, 930], "title": null}}
      },
      "layer": [
        {"data": {"name": "P4"}, "mark": {"type": "circle", "size": 20, "color": "#0000ff", "opacity": 1}},
        {"data": {"name": "P4fit"}, "mark": {"type": "line", "color": "#ff00ff", "strokeWidth": 5.5, "strokeCap": "butt"}, "encoding": {}},
        {"data": {"values": [{"t": "P4", "x": 1410.75, "y": 926.15}, {"t": "τ", "x": 1410.75, "y": 923.4}]}, "mark": {"type": "text"}, "encoding": {"text": {"field": "t", "type": "nominal"}}},
        {"data": {"values": [{"t": "1070", "x": 1410.75, "y": 923.4}]}, "mark": {"type": "text", "fontSize": 15, "dx": 10, "dy": 9}, "encoding": {"text": {"field": "t", "type": "nominal"}}}
      ]
    },
    {
      "width": 246, "height": 143,
      "encoding": {
        "x": {"field": "x", "type": "quantitative", "scale": {"domain": [970.04, 982.68], "nice": false, "zero": false}, "axis": {"values": [972, 974, 976, 978, 980, 982], "title": "τₚ (ms)", "titlePadding": 6}},
        "y": {"field": "y", "type": "quantitative", "scale": {"domain": [915, 930], "nice": false, "zero": false}, "axis": {"values": [915, 920, 925, 930], "title": null, "labels": false}}
      },
      "layer": [
        {"data": {"name": "P5"}, "mark": {"type": "circle", "size": 20, "color": "#0000ff", "opacity": 1}},
        {"data": {"name": "P5fit"}, "mark": {"type": "line", "color": "#ff00ff", "strokeWidth": 5.5, "strokeCap": "butt"}, "encoding": {}},
        {"data": {"values": [{"t": "P5", "x": 971.07, "y": 926.15}, {"t": "τ", "x": 971.07, "y": 923.4}]}, "mark": {"type": "text"}, "encoding": {"text": {"field": "t", "type": "nominal"}}},
        {"data": {"values": [{"t": "740", "x": 971.07, "y": 923.4}]}, "mark": {"type": "text", "fontSize": 15, "dx": 10, "dy": 9}, "encoding": {"text": {"field": "t", "type": "nominal"}}}
      ]
    }
  ]
}
